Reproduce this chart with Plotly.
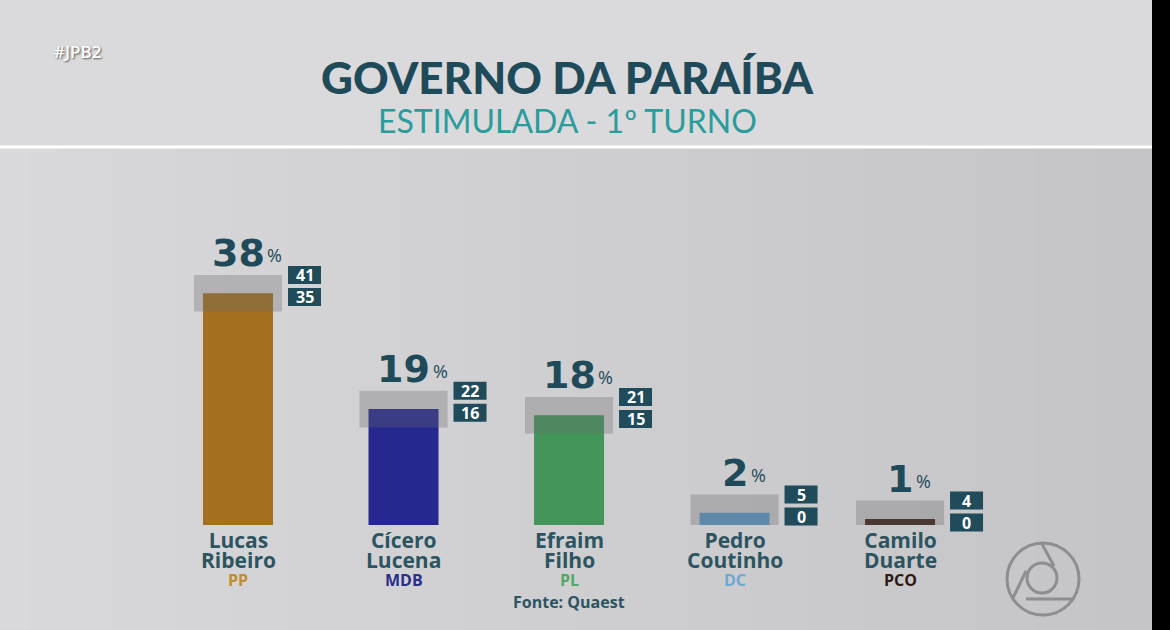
import plotly.graph_objects as go

# Quaest - Governo da Paraíba, estimulada 1º turno
first_names = ["Lucas", "Cícero", "Efraim", "Pedro", "Camilo"]
last_names = ["Ribeiro", "Lucena", "Filho", "Coutinho", "Duarte"]
parties = ["PP", "MDB", "PL", "DC", "PCO"]
values = [38, 19, 18, 2, 1]
upper = [41, 22, 21, 5, 4]
lower = [35, 16, 15, 0, 0]

bar_colors = ["#a4701f", "#262890", "#43955a", "#5b98c8", "#3b2119"]
party_colors = ["#c48c2c", "#2b2d8a", "#4fa866", "#6aa8d4", "#2a1a12"]

W, H = 1170, 630
DARK = "#1e4a59"
NAME = "#2c5461"
BOX = "#1f4b5b"

xs = list(range(len(values)))

fig = go.Figure()

fig.add_trace(go.Bar(
    x=xs, y=values, width=0.423,
    marker=dict(color=bar_colors, line=dict(width=0)),
    hoverinfo="skip",
))
# margem de erro (faixa cinza por cima da barra)
fig.add_trace(go.Bar(
    x=xs, y=[u - l for u, l in zip(upper, lower)], base=lower, width=0.532,
    marker=dict(color="rgba(105,105,108,0.32)", line=dict(width=0)),
    hoverinfo="skip",
))


def px(x):
    return x / W


def py(y):
    return 1 - y / H


shapes = []
# fundo com degradê leve
n_strips = 40
for k in range(n_strips):
    t = k / (n_strips - 1)
    c = int(217 - 20 * t)
    shapes.append(dict(type="rect", xref="paper", yref="paper",
                       x0=px(k / n_strips * 1152), x1=px((k + 1) / n_strips * 1152) + 0.001,
                       y0=0, y1=py(148), fillcolor=f"rgb({c},{c},{c + 2})",
                       line=dict(width=0), layer="below"))
shapes.append(dict(type="rect", xref="paper", yref="paper", x0=0, x1=px(1152),
                   y0=py(147), y1=1, fillcolor="#dadadc", line=dict(width=0), layer="below"))
shapes.append(dict(type="line", xref="paper", yref="paper", x0=0, x1=px(1152),
                   y0=py(147), y1=py(147), line=dict(color="#ffffff", width=3)))
shapes.append(dict(type="rect", xref="paper", yref="paper", x0=px(1152), x1=1,
                   y0=0, y1=1, fillcolor="#000000", line=dict(width=0)))

# logo
cx, cy = 1043, 579
logo = dict(color="#8e8e90", width=3)
shapes.append(dict(type="circle", xref="paper", yref="paper", x0=px(cx - 36), x1=px(cx + 36),
                   y0=py(cy + 36), y1=py(cy - 36), line=logo))
shapes.append(dict(type="circle", xref="paper", yref="paper", x0=px(cx - 16), x1=px(cx + 14),
                   y0=py(cy + 14), y1=py(cy - 16), line=logo))
for (a, b, c2, d) in [(1042, 544, 1054, 566), (1013, 598, 1026, 571), (1026, 599, 1073, 599)]:
    shapes.append(dict(type="line", xref="paper", yref="paper", x0=px(a), y0=py(b),
                       x1=px(c2), y1=py(d), line=logo))

# caixas com limites superior / inferior
for i in xs:
    for y0, y1 in [(-9, 9), (-31, -13)]:
        shapes.append(dict(type="rect", xref="x", yref="y", xsizemode="pixel", ysizemode="pixel",
                           xanchor=i, yanchor=upper[i], x0=50, x1=83, y0=y0, y1=y1,
                           fillcolor=BOX, line=dict(width=0)))

ann = []
for i in xs:
    ann.append(dict(x=i, y=upper[i], xref="x", yref="y", text=str(values[i]), showarrow=False,
                    yanchor="bottom", yshift=-2,
                    font=dict(family="DejaVu Sans", size=38, color=DARK, weight="bold")))
    ann.append(dict(x=i, y=upper[i], xref="x", yref="y", text="%", showarrow=False,
                    xanchor="left", yanchor="bottom", xshift=13 * len(str(values[i])) + 1, yshift=6,
                    font=dict(family="Open Sans", size=18, color=DARK)))
    ann.append(dict(x=i, y=upper[i], xref="x", yref="y", text=str(upper[i]), showarrow=False,
                    xshift=66.5, yshift=0,
                    font=dict(family="Open Sans", size=16, color="#ffffff", weight="bold")))
    ann.append(dict(x=i, y=upper[i], xref="x", yref="y", text=str(lower[i]), showarrow=False,
                    xshift=66.5, yshift=-22,
                    font=dict(family="Open Sans", size=16, color="#ffffff", weight="bold")))
    label = (f"<span style='font-size:21px'>{first_names[i]}</span><br>"
             f"<span style='font-size:21px'>{last_names[i]}</span>")
    ann.append(dict(x=i, y=0, xref="x", yref="y", text=label, showarrow=False,
                    yanchor="top", yshift=1,
                    font=dict(family="Open Sans", size=15.4, color=NAME, weight="bold")))
    ann.append(dict(x=i, y=0, xref="x", yref="y", text=parties[i], showarrow=False,
                    yanchor="middle", yshift=-55,
                    font=dict(family="Open Sans", size=16, color=party_colors[i], weight="bold")))

ann.append(dict(x=2, y=0, xref="x", yref="y", text="Fonte: Quaest", showarrow=False,
                yanchor="middle", yshift=-77,
                font=dict(family="Open Sans", size=16, color=NAME, weight="bold")))
ann.append(dict(x=px(567), y=py(77), xref="paper", yref="paper", text="GOVERNO DA PARAÍBA",
                showarrow=False, yanchor="middle",
                font=dict(family="Lato", size=44, color=DARK, weight=900)))
ann.append(dict(x=px(567), y=py(121), xref="paper", yref="paper", text="ESTIMULADA - 1º TURNO",
                showarrow=False, yanchor="middle",
                font=dict(family="Lato", size=32, color="#2a9c9c", weight=400)))
ann.append(dict(x=px(52), y=py(51), xref="paper", yref="paper", text="#JPB2",
                showarrow=False, xanchor="left", yanchor="middle",
                font=dict(family="Open Sans", size=17, color="#ffffff", weight=600,
                          shadow="1px 1px 2px #555555")))

fig.update_layout(
    width=W, height=H,
    margin=dict(l=0, r=0, t=0, b=0),
    paper_bgcolor="#d2d2d4", plot_bgcolor="rgba(0,0,0,0)",
    barmode="overlay", showlegend=False,
    xaxis=dict(range=[-1.438, 5.631], visible=False, fixedrange=True),
    yaxis=dict(range=[-17.21, 86.07], visible=False, fixedrange=True),
    shapes=shapes, annotations=ann,
)

fig.write_html("out.html", config={"displayModeBar": False},
               post_script="document.body.style.margin='0px';")
